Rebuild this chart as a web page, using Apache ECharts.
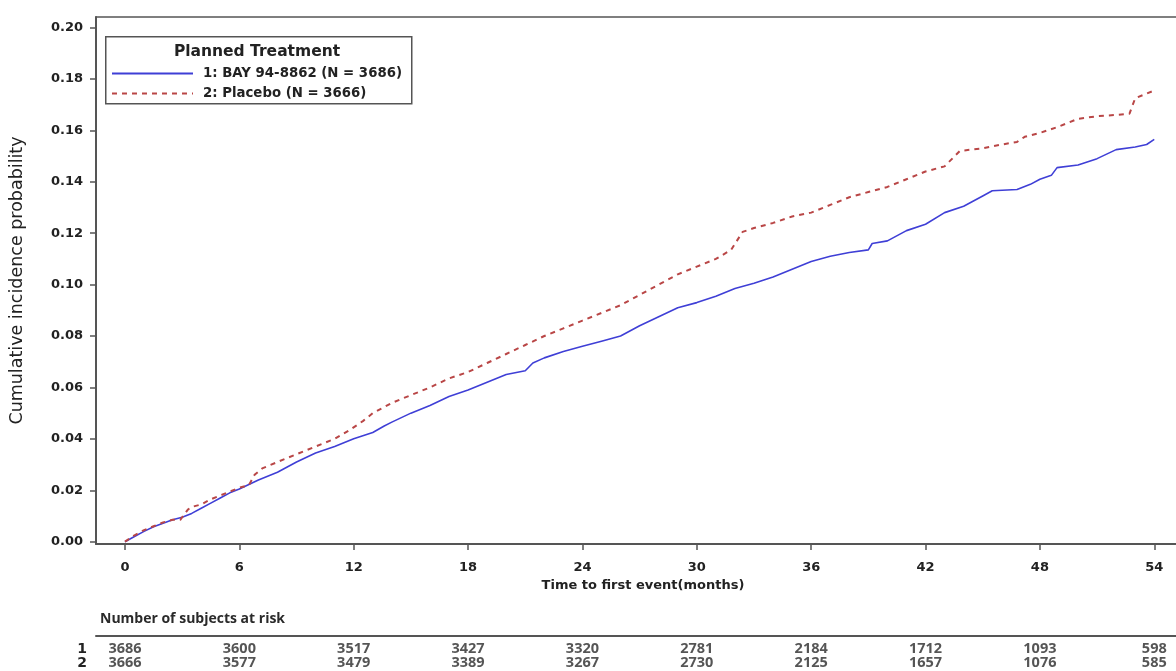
<!DOCTYPE html>
<html>
<head>
<meta charset="utf-8">
<script src="https://cdn.jsdelivr.net/npm/echarts@6/dist/echarts.min.js"></script>
<style>
html,body{margin:0;padding:0;background:#fff;}
#c{width:1176px;height:671px;}
</style>
</head>
<body>
<div id="c"></div>
<script>
// ---- data ----
const xTicks = [0, 6, 12, 18, 24, 30, 36, 42, 48, 54];
const yTicks = [0, 0.02, 0.04, 0.06, 0.08, 0.10, 0.12, 0.14, 0.16, 0.18, 0.20];
const seriesNames = ['1: BAY 94-8862 (N = 3686)', '2: Placebo (N = 3666)'];
const bayCurve = [[0,0],[0.5,0.002],[1,0.004],[1.5,0.0058],[2,0.0072],[2.5,0.0085],[3,0.0095],[3.5,0.011],[4,0.013],[4.5,0.015],[5,0.017],[5.5,0.019],[6,0.0205],[7,0.024],[8,0.027],[9,0.031],[10,0.0345],[11,0.037],[12,0.040],[13,0.0425],[13.6,0.045],[14,0.0465],[15,0.050],[16,0.053],[17,0.0565],[18,0.059],[19,0.062],[20,0.065],[21,0.0665],[21.4,0.0695],[22,0.0715],[23,0.074],[24,0.076],[25,0.078],[26,0.080],[27,0.084],[28,0.0875],[29,0.091],[30,0.093],[31,0.0955],[32,0.0985],[33,0.1005],[34,0.103],[35,0.106],[36,0.109],[37,0.111],[38,0.1125],[39,0.1135],[39.2,0.116],[40,0.117],[41,0.121],[42,0.1235],[43,0.128],[44,0.1305],[45,0.1345],[45.5,0.1365],[46.8,0.137],[47.5,0.139],[48,0.141],[48.6,0.1425],[48.9,0.1455],[50,0.1465],[51,0.149],[52,0.1525],[53,0.1535],[53.6,0.1545],[54,0.1565]];
const placeboCurve = [[0,0],[0.5,0.0025],[1,0.0045],[1.5,0.006],[2,0.0075],[2.5,0.0085],[2.9,0.0085],[3.3,0.0125],[3.5,0.0135],[4,0.0145],[4.5,0.0165],[5,0.018],[5.5,0.0195],[6,0.021],[6.5,0.022],[6.8,0.026],[7.2,0.0285],[8,0.031],[9,0.034],[10,0.037],[11,0.040],[11.8,0.0435],[12.5,0.047],[13,0.050],[14,0.054],[15,0.057],[16,0.060],[17,0.0635],[18,0.066],[19,0.0695],[20,0.073],[21,0.0765],[22,0.080],[23,0.083],[24,0.086],[25,0.089],[26,0.092],[27,0.096],[28,0.100],[29,0.104],[30,0.107],[31,0.110],[31.8,0.1135],[32.4,0.1205],[33,0.122],[34,0.124],[35,0.1265],[36,0.128],[37,0.131],[38,0.134],[39,0.136],[40,0.138],[41,0.141],[42,0.144],[43,0.146],[43.8,0.152],[45,0.153],[46,0.1545],[46.8,0.1555],[47.2,0.1575],[48,0.159],[49,0.1615],[50,0.1645],[51,0.1655],[52,0.166],[52.7,0.1665],[53,0.1725],[54,0.1755]];
const riskTimes = [0, 6, 12, 18, 24, 30, 36, 42, 48, 54];
const riskBay = [3686, 3600, 3517, 3427, 3320, 2781, 2184, 1712, 1093, 598];
const riskPlacebo = [3666, 3577, 3479, 3389, 3267, 2730, 2125, 1657, 1076, 585];
const riskRows = [1, 2];

// ---- chart ----
const X_MIN = -1.52, X_MAX = 55.14;
const axisColor = '#555';
const txt = '#222';
const chart = echarts.init(document.getElementById('c'), null, {renderer: 'canvas'});

function riskData(vals, row) { return riskTimes.map((t, i) => [t, row, vals[i]]); }

const riskLabel = {show: true, position: 'inside', formatter: p => String(p.value[2]), fontFamily: 'Open Sans', fontWeight: 'bold', fontSize: 14.5, color: '#2a2a2a'};

chart.setOption({
  animation: false,
  backgroundColor: '#fff',
  grid: [
    {left: 96, top: 17, right: 0, height: 527},
    {left: 96, top: 636, right: 0, height: 34}
  ],
  legend: {
    left: 111, top: 67, orient: 'vertical', itemWidth: 81, itemHeight: 12, itemGap: 7,
    padding: 0, selectedMode: false,
    itemStyle: {opacity: 0},
    data: seriesNames,
    textStyle: {fontFamily: 'DejaVu Sans', fontWeight: 'bold', fontSize: 13.3, color: txt, padding: [0, 0, 0, 5]}
  },
  graphic: [
    {type: 'rect', left: 105, top: 36, shape: {width: 306, height: 67}, style: {fill: 'transparent', stroke: axisColor, lineWidth: 1.5}, z: 10},
    {type: 'text', x: 257, y: 52, style: {text: 'Planned Treatment', align: 'center', verticalAlign: 'middle', fontFamily: 'DejaVu Sans', fontWeight: 'bold', fontSize: 15.5, fill: txt}, z: 11},
    {type: 'text', left: 100, top: 612, style: {text: 'Number of subjects at risk', fontFamily: 'Open Sans', fontWeight: 'bold', fontSize: 14, fill: '#2a2a2a'}, z: 11}
  ],
  xAxis: [
    {
      type: 'value', gridIndex: 0, min: X_MIN, max: X_MAX,
      name: 'Time to first event(months)', nameLocation: 'middle', nameGap: 33,
      nameTextStyle: {fontFamily: 'DejaVu Sans', fontWeight: 'bold', fontSize: 13, color: txt, padding: [0, 0, 0, 14]},
      axisLine: {show: true, onZero: false, lineStyle: {color: axisColor, width: 2}},
      axisTick: {show: true, customValues: xTicks, length: 6, lineStyle: {color: axisColor, width: 1.5}},
      axisLabel: {customValues: xTicks, margin: 17, fontFamily: 'DejaVu Sans', fontWeight: 'bold', fontSize: 13, color: txt},
      splitLine: {show: false}
    },
    {
      type: 'value', gridIndex: 0, min: X_MIN, max: X_MAX, position: 'top',
      axisLine: {show: true, onZero: false, lineStyle: {color: axisColor, width: 1.5}},
      axisTick: {show: false}, axisLabel: {show: false}, splitLine: {show: false}
    },
    {
      type: 'value', gridIndex: 1, min: X_MIN, max: X_MAX, position: 'top',
      axisLine: {show: true, onZero: false, lineStyle: {color: axisColor, width: 2}},
      axisTick: {show: false}, axisLabel: {show: false}, splitLine: {show: false}
    }
  ],
  yAxis: [
    {
      type: 'value', gridIndex: 0, min: -0.0009, max: 0.2041,
      name: 'Cumulative incidence probability', nameLocation: 'middle', nameGap: 70,
      nameTextStyle: {fontFamily: 'DejaVu Sans', fontSize: 17.5, color: txt},
      axisLine: {show: true, onZero: false, lineStyle: {color: axisColor, width: 2}},
      axisTick: {show: true, customValues: yTicks, length: 6, lineStyle: {color: axisColor, width: 1.5}},
      axisLabel: {customValues: yTicks, margin: 13, formatter: v => v.toFixed(2), fontFamily: 'DejaVu Sans', fontWeight: 'bold', fontSize: 13, color: txt},
      splitLine: {show: false}
    },
    {
      type: 'value', gridIndex: 1, min: 0.07, max: 2.5, inverse: true,
      axisLine: {show: false}, axisTick: {show: false},
      axisLabel: {customValues: riskRows, margin: 9, formatter: v => String(Math.round(v)), fontFamily: 'DejaVu Sans', fontWeight: 'bold', fontSize: 14, color: txt},
      splitLine: {show: false}
    }
  ],
  series: [
    {
      name: seriesNames[0], type: 'line', xAxisIndex: 0, yAxisIndex: 0, data: bayCurve,
      symbol: 'none', color: '#3f3fd6',
      lineStyle: {color: '#3f3fd6', width: 1.6}, z: 3
    },
    {
      name: seriesNames[1], type: 'line', xAxisIndex: 0, yAxisIndex: 0, data: placeboCurve,
      symbol: 'none', color: '#b94646',
      lineStyle: {color: '#b94646', width: 2, type: [5, 5]}, z: 4
    },
    {
      type: 'scatter', xAxisIndex: 2, yAxisIndex: 1, data: riskData(riskBay, 1),
      symbolSize: 1, itemStyle: {color: 'transparent'}, silent: true, label: riskLabel
    },
    {
      type: 'scatter', xAxisIndex: 2, yAxisIndex: 1, data: riskData(riskPlacebo, 2),
      symbolSize: 1, itemStyle: {color: 'transparent'}, silent: true, label: riskLabel
    }
  ]
});
</script>
</body>
</html>
